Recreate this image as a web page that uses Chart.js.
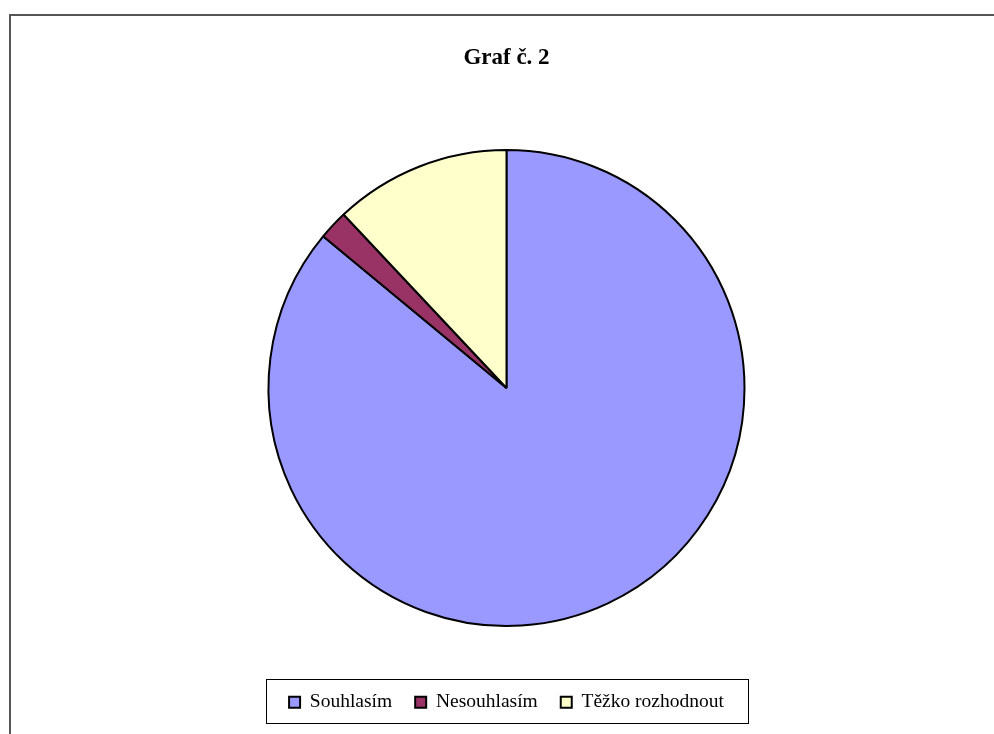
<!DOCTYPE html>
<html>
<head>
<meta charset="utf-8">
<script src="https://cdn.jsdelivr.net/npm/chart.js@4/dist/chart.umd.min.js"></script>
<style>
  html, body { margin: 0; padding: 0; background: #fff; }
  #wrap { position: relative; width: 994px; height: 734px; }
  #frame {
    position: absolute; left: 9px; top: 14px; right: 0; bottom: 0;
    border-left: 2px solid #555; border-top: 2px solid #555;
    pointer-events: none;
  }
  canvas { position: absolute; left: 0; top: 0; }
</style>
</head>
<body>
<div id="wrap">
  <canvas id="pieChart" width="994" height="734"></canvas>
  <div id="frame"></div>
</div>
<script>
const labels = ['Souhlasím', 'Nesouhlasím', 'Těžko rozhodnout']
const values = [86, 2, 12]
const colors = ['#9999FF', '#993366', '#FFFFCC']
const titleText = 'Graf č. 2'

const serif = '"Liberation Serif", "Times New Roman", serif'

// box around the legend like in the original
const legendBox = {
  id: 'legendBox',
  afterDraw(chart) {
    const lg = chart.legend
    if (!lg || !lg.legendHitBoxes.length) return
    const hb = lg.legendHitBoxes
    const left = Math.min(...hb.map((h) => h.left))
    const right = Math.max(...hb.map((h) => h.left + h.width))
    const mid = hb[0].top + hb[0].height / 2
    const ctx = chart.ctx
    ctx.save()
    ctx.strokeStyle = '#000'
    ctx.lineWidth = 1
    ctx.strokeRect(Math.round(left - 23) + 0.5, Math.round(mid - 23) + 0.5, Math.round(right - left + 47), 44)
    ctx.restore()
  },
}

const ctx = document.getElementById('pieChart').getContext('2d')
new Chart(ctx, {
  type: 'pie',
  data: {
    labels: labels,
    datasets: [
      {
        data: values,
        backgroundColor: colors,
        borderColor: '#000',
        borderWidth: 2,
      },
    ],
  },
  options: {
    responsive: false,
    animation: false,
    radius: 238,
    layout: { padding: { top: 0, bottom: 12, left: 19, right: 0 } },
    plugins: {
      title: {
        display: true,
        text: titleText,
        color: '#000',
        font: { family: serif, size: 23, weight: 'bold' },
        padding: { top: 44, bottom: 35 },
      },
      legend: {
        position: 'bottom',
        labels: {
          color: '#000',
          font: { family: serif, size: 19.5 },
          boxWidth: 11,
          boxHeight: 11,
          padding: 23,
        },
      },
      tooltip: { enabled: false },
    },
  },
  plugins: [legendBox],
})
</script>
</body>
</html>
